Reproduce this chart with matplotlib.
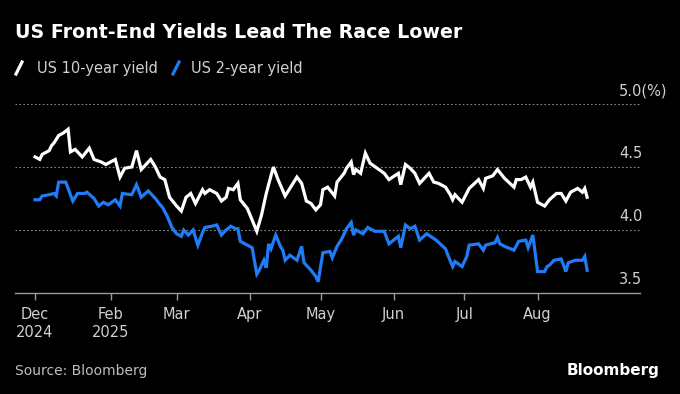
import pandas as pd
import matplotlib.pyplot as plt
import matplotlib.transforms as mtransforms
from matplotlib.lines import Line2D

# US 10-year yield (%)
ten_year_dates = [
    "2024-12-31", "2025-01-02", "2025-01-03", "2025-01-06", "2025-01-07", "2025-01-08",
    "2025-01-10", "2025-01-12", "2025-01-14", "2025-01-15", "2025-01-17", "2025-01-20",
    "2025-01-23", "2025-01-25", "2025-01-28", "2025-01-30", "2025-02-01", "2025-02-03",
    "2025-02-05", "2025-02-07", "2025-02-10", "2025-02-12", "2025-02-14", "2025-02-18",
    "2025-02-20", "2025-02-22", "2025-02-24", "2025-02-26", "2025-03-01", "2025-03-03",
    "2025-03-05", "2025-03-07", "2025-03-09", "2025-03-12", "2025-03-13", "2025-03-15",
    "2025-03-18", "2025-03-20", "2025-03-22", "2025-03-23", "2025-03-25", "2025-03-27",
    "2025-03-28", "2025-03-31", "2025-04-04", "2025-04-06", "2025-04-08", "2025-04-11",
    "2025-04-13", "2025-04-16", "2025-04-19", "2025-04-21", "2025-04-23", "2025-04-25",
    "2025-04-27", "2025-04-29", "2025-05-01", "2025-05-02", "2025-05-04", "2025-05-07",
    "2025-05-08", "2025-05-11", "2025-05-12", "2025-05-14", "2025-05-15", "2025-05-16",
    "2025-05-18", "2025-05-20", "2025-05-22", "2025-05-25", "2025-05-28", "2025-05-30",
    "2025-06-03", "2025-06-04", "2025-06-06", "2025-06-08", "2025-06-10", "2025-06-12",
    "2025-06-14", "2025-06-16", "2025-06-18", "2025-06-20", "2025-06-23", "2025-06-25",
    "2025-06-26", "2025-06-27", "2025-06-30", "2025-07-03", "2025-07-07", "2025-07-09",
    "2025-07-10", "2025-07-13", "2025-07-15", "2025-07-18", "2025-07-22", "2025-07-23",
    "2025-07-25", "2025-07-27", "2025-07-29", "2025-07-30", "2025-08-01", "2025-08-04",
    "2025-08-06", "2025-08-09", "2025-08-11", "2025-08-13", "2025-08-15", "2025-08-18",
    "2025-08-20", "2025-08-21", "2025-08-22",
]
ten_year = [
    4.58, 4.56, 4.60, 4.63, 4.67, 4.69,
    4.75, 4.77, 4.80, 4.62, 4.64, 4.58,
    4.65, 4.56, 4.54, 4.52, 4.54, 4.56,
    4.42, 4.49, 4.50, 4.63, 4.48, 4.56,
    4.50, 4.42, 4.40, 4.26, 4.19, 4.15,
    4.26, 4.29, 4.21, 4.32, 4.29, 4.32,
    4.29, 4.23, 4.26, 4.33, 4.32, 4.37,
    4.24, 4.17, 3.99, 4.12, 4.29, 4.50,
    4.40, 4.27, 4.36, 4.42, 4.37, 4.23,
    4.21, 4.16, 4.20, 4.32, 4.34, 4.27,
    4.38, 4.45, 4.49, 4.54, 4.44, 4.48,
    4.45, 4.61, 4.53, 4.49, 4.45, 4.40,
    4.45, 4.36, 4.52, 4.49, 4.45, 4.37,
    4.41, 4.45, 4.38, 4.37, 4.34, 4.28,
    4.24, 4.28, 4.22, 4.33, 4.40, 4.33,
    4.41, 4.43, 4.48, 4.41, 4.34, 4.40,
    4.40, 4.42, 4.34, 4.38, 4.22, 4.19,
    4.24, 4.29, 4.29, 4.23, 4.30, 4.33,
    4.30, 4.33, 4.26,
]

# US 2-year yield (%)
two_year_dates = [
    "2024-12-31", "2025-01-02", "2025-01-03", "2025-01-06", "2025-01-08", "2025-01-09",
    "2025-01-10", "2025-01-13", "2025-01-14", "2025-01-16", "2025-01-18", "2025-01-21",
    "2025-01-22", "2025-01-25", "2025-01-27", "2025-01-29", "2025-01-31", "2025-02-03",
    "2025-02-05", "2025-02-06", "2025-02-10", "2025-02-12", "2025-02-14", "2025-02-17",
    "2025-02-20", "2025-02-22", "2025-02-23", "2025-02-25", "2025-02-27", "2025-03-01",
    "2025-03-03", "2025-03-04", "2025-03-06", "2025-03-08", "2025-03-10", "2025-03-12",
    "2025-03-13", "2025-03-16", "2025-03-18", "2025-03-20", "2025-03-22", "2025-03-24",
    "2025-03-26", "2025-03-27", "2025-03-28", "2025-03-31", "2025-04-02", "2025-04-04",
    "2025-04-05", "2025-04-07", "2025-04-08", "2025-04-09", "2025-04-10", "2025-04-12",
    "2025-04-14", "2025-04-15", "2025-04-16", "2025-04-18", "2025-04-21", "2025-04-23",
    "2025-04-24", "2025-04-27", "2025-04-29", "2025-04-30", "2025-05-02", "2025-05-05",
    "2025-05-06", "2025-05-08", "2025-05-10", "2025-05-12", "2025-05-14", "2025-05-15",
    "2025-05-16", "2025-05-19", "2025-05-21", "2025-05-24", "2025-05-28", "2025-05-30",
    "2025-06-03", "2025-06-04", "2025-06-06", "2025-06-08", "2025-06-10", "2025-06-12",
    "2025-06-15", "2025-06-19", "2025-06-23", "2025-06-24", "2025-06-26", "2025-06-27",
    "2025-06-30", "2025-07-02", "2025-07-03", "2025-07-07", "2025-07-09", "2025-07-10",
    "2025-07-14", "2025-07-15", "2025-07-16", "2025-07-18", "2025-07-22", "2025-07-24",
    "2025-07-27", "2025-07-28", "2025-07-30", "2025-08-01", "2025-08-04", "2025-08-05",
    "2025-08-06", "2025-08-08", "2025-08-11", "2025-08-13", "2025-08-14", "2025-08-17",
    "2025-08-20", "2025-08-21", "2025-08-22",
]
two_year = [
    4.24, 4.24, 4.27, 4.28, 4.29, 4.27,
    4.38, 4.38, 4.33, 4.23, 4.29, 4.29,
    4.30, 4.25, 4.19, 4.22, 4.20, 4.24,
    4.19, 4.29, 4.28, 4.36, 4.26, 4.31,
    4.25, 4.20, 4.18, 4.11, 4.02, 3.97,
    3.95, 4.00, 3.96, 4.00, 3.88, 3.98,
    4.02, 4.03, 4.04, 3.96, 4.00, 4.03,
    4.01, 4.01, 3.91, 3.88, 3.86, 3.65,
    3.68, 3.76, 3.70, 3.89, 3.85, 3.96,
    3.87, 3.84, 3.76, 3.80, 3.76, 3.87,
    3.74, 3.68, 3.63, 3.59, 3.82, 3.83,
    3.78, 3.87, 3.93, 4.01, 4.06, 3.96,
    4.00, 3.97, 4.02, 3.99, 3.99, 3.89,
    3.95, 3.86, 4.04, 4.01, 4.03, 3.92,
    3.97, 3.92, 3.85, 3.80, 3.71, 3.75,
    3.71, 3.79, 3.88, 3.89, 3.84, 3.88,
    3.90, 3.94, 3.89, 3.87, 3.84, 3.91,
    3.92, 3.86, 3.96, 3.67, 3.67, 3.71,
    3.72, 3.76, 3.77, 3.67, 3.74, 3.76,
    3.76, 3.79, 3.68,
]

tick_dates = ["2024-12-31", "2025-02-01", "2025-03-01", "2025-04-01", "2025-05-01",
              "2025-06-01", "2025-07-01", "2025-08-01"]
tick_labels = ["Dec\n2024", "Feb\n2025", "Mar", "Apr", "May", "Jun", "Jul", "Aug"]
y_levels = [3.5, 4.0, 4.5, 5.0]
y_labels = ["3.5", "4.0", "4.5", "5.0(%)"]

blue = "#1f7cf6"
grey_text = "#d0d0d0"

fig = plt.figure(figsize=(6.8, 3.94), dpi=100, facecolor="black")
ax = fig.add_axes([15 / 680, 1 - 293 / 394, 625 / 680, 189 / 394])
ax.set_facecolor("black")

ax.plot(pd.to_datetime(ten_year_dates), ten_year, color="white", lw=2.3,
        solid_joinstyle="miter")
ax.plot(pd.to_datetime(two_year_dates), two_year, color=blue, lw=2.3,
        solid_joinstyle="miter")

ax.set_xlim(pd.Timestamp("2024-12-22 12:00"), pd.Timestamp("2025-09-13 10:00"))
ax.set_ylim(3.5, 5.0)

for s in ["top", "right", "left"]:
    ax.spines[s].set_visible(False)
ax.spines["bottom"].set_color("#9a9a9a")
ax.spines["bottom"].set_linewidth(1.0)

ax.set_yticks([])
for v in y_levels[1:]:
    ax.axhline(v, color="#8a8a8a", lw=0.8, ls=(0, (1.5, 2)), zorder=0)

# value labels sit just above their gridline, on the right
trans = mtransforms.blended_transform_factory(ax.transAxes, ax.transData)
for v, lab in zip(y_levels, y_labels):
    ax.text(604 / 625, v + 0.07, lab, transform=trans, ha="left", va="baseline",
            color=grey_text, fontsize=10.5)

ax.set_xticks(pd.to_datetime(tick_dates))
ax.set_xticklabels(tick_labels, linespacing=1.3)
ax.tick_params(axis="x", colors="#9a9a9a", length=5, width=1.0, pad=5,
               labelsize=10.5, labelcolor=grey_text)

fig.text(15 / 680, 1 - 33 / 394, "US Front-End Yields Lead The Race Lower",
         color="white", fontsize=13.7, fontweight="bold", va="center", ha="left")

# legend drawn by hand: slash marks + labels
fig.add_artist(Line2D([16 / 680, 22 / 680], [1 - 74 / 394, 1 - 62 / 394],
                      color="white", lw=2.3, transform=fig.transFigure))
fig.text(37 / 680, 1 - 68 / 394, "US 10-year yield", color=grey_text,
         fontsize=10.5, va="center", ha="left")
fig.add_artist(Line2D([173 / 680, 179 / 680], [1 - 74 / 394, 1 - 62 / 394],
                      color=blue, lw=2.3, transform=fig.transFigure))
fig.text(191 / 680, 1 - 68 / 394, "US 2-year yield", color=grey_text,
         fontsize=10.5, va="center", ha="left")

fig.text(15 / 680, 1 - 371 / 394, "Source: Bloomberg", color="#bdbdbd",
         fontsize=10, va="center", ha="left")
fig.text(659 / 680, 1 - 370 / 394, "Bloomberg", color="white",
         fontsize=11, fontweight="bold", va="center", ha="right")

fig.savefig("out.png", dpi=100, facecolor="black")
